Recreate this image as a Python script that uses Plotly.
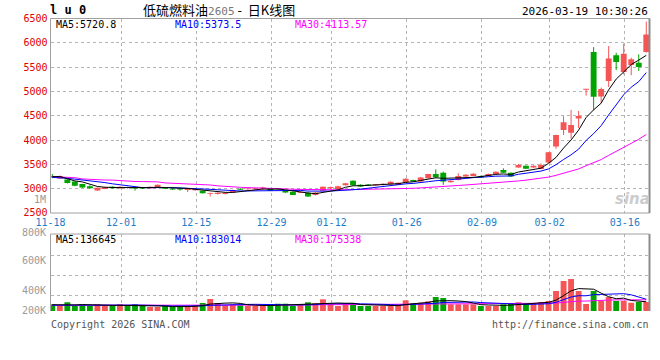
import plotly.graph_objects as go

# ---------------- data ----------------
dates = ["11-18","11-19","11-20","11-21","11-24","11-25","11-26","11-27","11-28",
         "12-01","12-02","12-03","12-04","12-05","12-08","12-09","12-10","12-11","12-12",
         "12-15","12-16","12-17","12-18","12-19","12-22","12-23","12-24","12-25","12-26",
         "12-29","12-30","12-31",
         "01-05","01-06","01-07","01-08","01-09","01-12","01-13","01-14","01-15","01-16",
         "01-19","01-20","01-21","01-22","01-23","01-26","01-27","01-28","01-29","01-30",
         "02-02","02-03","02-04","02-05","02-06","02-09","02-10","02-11","02-12","02-13",
         "02-24","02-25","02-26","02-27",
         "03-02","03-03","03-04","03-05","03-06","03-09","03-10","03-11","03-12","03-13",
         "03-16","03-17","03-18","03-19"]

opens = [3245, 3210, 3190, 3145, 3095, 3050, 2960, 2995, 3040, 3010,
         3030, 3012, 3010, 3010, 3022, 3020, 2995, 2992, 2975, 2970,
         2958, 2890, 2888, 2888, 2928, 2985, 2988, 2990, 3005, 3005,
         2998, 2958, 2935, 2918, 2915, 2872, 2955, 3015, 2990, 3072,
         3162, 3080, 3088, 3065, 3085, 3092, 3080, 3125, 3178, 3146,
         3216, 3300, 3328, 3132, 3180, 3248, 3262, 3260, 3262, 3304,
         3382, 3328, 3434, 3472, 3434, 3406, 3536, 3866, 4208, 4152,
         4445, 5035, 5810, 4895, 5216, 5742, 5400, 5544, 5592, 5810]

closes = [3235, 3262, 3115, 3058, 3025, 3010, 3020, 3030, 3010, 3040,
          3015, 3005, 3005, 3040, 3080, 2998, 2985, 2985, 2980, 2985,
          2908, 2900, 2915, 2915, 2972, 2978, 3000, 3005, 3010, 2958,
          2990, 2920, 2872, 2935, 2838, 2922, 3040, 3022, 3052, 3110,
          3072, 3045, 3065, 3090, 3092, 3142, 3122, 3203, 3148, 3232,
          3300, 3236, 3146, 3162, 3260, 3286, 3308, 3228, 3300, 3348,
          3330, 3250, 3486, 3412, 3472, 3486, 3748, 4102, 4365, 4310,
          4495, 5045, 4893, 5050, 5680, 5606, 5776, 5660, 5502, 6170]

highs = [3300, 3270, 3200, 3150, 3100, 3070, 3025, 3040, 3045, 3045,
         3040, 3040, 3020, 3045, 3085, 3025, 3005, 3015, 2990, 2990,
         2965, 2918, 2925, 2925, 2978, 3010, 3010, 3012, 3040, 3010,
         3012, 2965, 2940, 2945, 2925, 2930, 3045, 3041, 3060, 3115,
         3170, 3090, 3095, 3095, 3112, 3150, 3130, 3215, 3185, 3240,
         3305, 3398, 3350, 3170, 3316, 3300, 3318, 3270, 3310, 3355,
         3418, 3335, 3508, 3478, 3478, 3522, 3755, 4110, 4490, 4620,
         4600, 5050, 5913, 5078, 5934, 5797, 5982, 5694, 5763, 6434]

lows = [3215, 3200, 3105, 3050, 3015, 3000, 2955, 2990, 3005, 3000,
        3005, 2960, 2995, 3005, 3015, 2990, 2975, 2960, 2930, 2960,
        2900, 2840, 2880, 2880, 2920, 2970, 2980, 2985, 2975, 2950,
        2975, 2912, 2865, 2910, 2830, 2860, 2950, 2990, 2985, 3065,
        3065, 3040, 3060, 3060, 3065, 3088, 3075, 3120, 3140, 3140,
        3210, 3215, 3078, 3125, 3170, 3235, 3255, 3220, 3255, 3300,
        3325, 3245, 3430, 3405, 3428, 3400, 3530, 3820, 4105, 4030,
        4250, 4915, 4618, 4756, 5092, 5440, 5352, 5332, 5420, 5797]

volumes = [103000, 77000, 134000, 77000, 103000, 77000, 103000, 77000, 77000, 103000,
           77000, 103000, 77000, 62000, 62000, 77000, 62000, 62000, 77000, 88000,
           123000, 185000, 123000, 88000, 103000, 88000, 77000, 77000, 77000, 103000,
           112000, 112000, 77000, 103000, 134000, 119000, 180000, 103000, 77000, 119000,
           119000, 77000, 77000, 77000, 77000, 77000, 103000, 165000, 119000, 128000,
           149000, 216000, 200000, 103000, 103000, 103000, 103000, 77000, 77000, 77000,
           103000, 119000, 134000, 119000, 119000, 139000, 154000, 308000, 462000, 493000,
           308000, 108000, 308000, 159000, 216000, 154000, 154000, 128000, 139000, 139000]

# moving-average values at the left edge (their windows start before the first candle),
# read from the lines in the picture
ma5_head = [3245, 3250, 3205, 3160]
ma10_head = [3234, 3228, 3212, 3196, 3180, 3165, 3148, 3125, 3100]
ma30_head = [3247, 3242, 3236, 3226, 3200, 3188, 3182, 3178, 3176, 3165,
             3152, 3148, 3146, 3144, 3140, 3118, 3113, 3110, 3105, 3092,
             3088, 3076, 3058, 3045, 3035, 3028, 3022, 3018, 3016]
vma5_head = [96000, 92000, 98000, 94000]
vma10_head = [90000, 89000, 90000, 89000, 90000, 89000, 90000, 90000, 89000]
vma30_head = [88000, 88000, 88000, 88000, 88000, 88000, 88000, 88000, 88000, 88000,
              88000, 88000, 88000, 88000, 88000, 86000, 80000, 80000, 80000, 80000,
              80000, 84000, 86000, 86000, 86000, 86000, 86000, 87000, 88000]

price_ticks = [2500, 3000, 3500, 4000, 4500, 5000, 5500, 6000, 6500]
date_ticks = ["11-18", "12-01", "12-15", "12-29", "01-12", "01-26", "02-09", "03-02", "03-16"]
vol_tick_labels = ["1M", "800K", "600K", "400K", "200K"]

price_ma_labels = ["MA5:5720.8", "MA10:5373.5", "MA30:4113.57"]
vol_ma_labels = ["MA5:136645", "MA10:183014", "MA30:175338"]
symbol = "l u 0"
title_name = "低硫燃料油"
title_code = "2605"
title_kind = "日K线图"
timestamp = "2026-03-19 10:30:26"

# ---------------- helpers ----------------
W, H = 660, 360
def fx(p):
    return p / W
def fy(p):
    return 1 - p / H

def moving(vals, n, head):
    return list(head) + [sum(vals[i - n + 1:i + 1]) / n for i in range(n - 1, len(vals))]

idx = list(range(len(dates)))
RED = "#f55555"
GREEN = "#00a300"
GRID = "#b4b4b4"
BORDER = "#a0a0a0"
MONO = "DejaVu Sans Mono"

up = [c >= o for o, c in zip(opens, closes)]
colors = [RED if u else GREEN for u in up]
MIN_BODY = 18
bases = [min(o, c) for o, c in zip(opens, closes)]
bodies = [max(abs(c - o), MIN_BODY) for o, c in zip(opens, closes)]

ma5 = moving(closes, 5, ma5_head)
ma10 = moving(closes, 10, ma10_head)
ma30 = moving(closes, 30, ma30_head)
vma5 = moving(volumes, 5, vma5_head)
vma10 = moving(volumes, 10, vma10_head)
vma30 = moving(volumes, 30, vma30_head)

XMIN, XMAX = -0.24, len(dates) - 1 + 0.43
tickvals = [dates.index(d) + 0.15 for d in date_ticks]
tickvals[0] = XMIN

fig = go.Figure()

# wicks
for col, flag in ((RED, True), (GREEN, False)):
    wx, wy = [], []
    for i in idx:
        if up[i] == flag:
            wx += [i, i, None]
            wy += [lows[i], highs[i], None]
    fig.add_trace(go.Scatter(x=wx, y=wy, mode="lines", line=dict(color=col, width=1),
                             xaxis="x", yaxis="y", hoverinfo="skip", showlegend=False))
# bodies
fig.add_trace(go.Bar(x=idx, y=bodies, base=bases, width=0.78,
                     marker=dict(color=colors, line=dict(width=0)),
                     xaxis="x", yaxis="y", hoverinfo="skip", showlegend=False))
# price MAs
for vals, col in ((ma30, "#ff00ff"), (ma10, "#0000ff"), (ma5, "#000000")):
    fig.add_trace(go.Scatter(x=idx, y=vals, mode="lines", line=dict(color=col, width=1),
                             xaxis="x", yaxis="y", hoverinfo="skip", showlegend=False))
# volume
fig.add_trace(go.Bar(x=idx, y=volumes, width=0.78,
                     marker=dict(color=colors, line=dict(width=0)),
                     xaxis="x2", yaxis="y2", hoverinfo="skip", showlegend=False))
for vals, col in ((vma30, "#ff00ff"), (vma10, "#0000ff"), (vma5, "#000000")):
    fig.add_trace(go.Scatter(x=idx, y=vals, mode="lines", line=dict(color=col, width=1),
                             xaxis="x2", yaxis="y2", hoverinfo="skip", showlegend=False))

XDOM = [fx(50.5), fx(649.5)]
MAIN_DOM = [fy(213), fy(18.5)]
VOL_DOM = [fy(311), fy(234)]
VOL_MAX = 1186000

fig.update_layout(
    template="none",
    width=W, height=H, margin=dict(l=0, r=0, t=0, b=0, pad=0, autoexpand=False),
    paper_bgcolor="white", plot_bgcolor="white", barmode="overlay", showlegend=False,
    hovermode=False,
    xaxis=dict(domain=XDOM, anchor="y", range=[XMIN, XMAX], tickmode="array",
               tickvals=tickvals, ticktext=date_ticks, ticks="", automargin=False,
               ticklabelstandoff=2,
               tickfont=dict(family=MONO, size=10, color="#1f7cc8"),
               showgrid=True, gridcolor=GRID, griddash="dot", gridwidth=1,
               zeroline=False, showline=False),
    yaxis=dict(domain=MAIN_DOM, anchor="x", range=[2499.5, 6500.5], tickmode="array",
               tickvals=price_ticks, ticktext=[str(v) for v in price_ticks], ticks="",
               automargin=False,
               tickfont=dict(family=MONO, size=10, color="#e00000"), ticklabelstandoff=2,
               showgrid=True, gridcolor=GRID, griddash="dot", gridwidth=1,
               zeroline=False, showline=False),
    xaxis2=dict(domain=XDOM, anchor="y2", range=[XMIN, XMAX], tickmode="array",
                tickvals=tickvals, showticklabels=False, ticks="", automargin=False,
                showgrid=True, gridcolor=GRID, griddash="dot", gridwidth=1,
                zeroline=False, showline=False),
    yaxis2=dict(domain=VOL_DOM, anchor="x2", range=[0, VOL_MAX], tickmode="array",
                tickvals=[246000, 554000, 862000], showticklabels=False, ticks="",
                automargin=False,
                showgrid=True, gridcolor=GRID, griddash="dot", gridwidth=1,
                zeroline=False, showline=False),
)

shapes = [
    dict(type="rect", xref="x domain", yref="y domain", x0=0, x1=1, y0=0, y1=1,
         line=dict(color=BORDER, width=1)),
    dict(type="line", xref="x domain", yref="y domain", x0=1, x1=1, y0=0, y1=1,
         line=dict(color="#8c8c8c", width=2)),
    dict(type="line", xref="x2 domain", yref="y2 domain", x0=0, x1=1, y0=1, y1=1,
         line=dict(color=BORDER, width=1)),
    dict(type="line", xref="x2 domain", yref="y2 domain", x0=0, x1=0, y0=0, y1=1,
         line=dict(color=BORDER, width=1)),
    dict(type="line", xref="x2 domain", yref="y2 domain", x0=1, x1=1, y0=0, y1=1,
         line=dict(color="#8c8c8c", width=2)),
]
fig.update_layout(shapes=shapes)

ann = []
def text(x, y, s, color="#000", size=10, family=MONO, xanchor="left"):
    ann.append(dict(x=fx(x), y=fy(y), xref="paper", yref="paper", text=s, showarrow=False,
                    xanchor=xanchor, yanchor="middle", borderpad=0,
                    font=dict(family=family, size=size, color=color)))

text(49, 10, "<b>" + symbol + "</b>", size=12)
text(218.5, 9.5, title_name + "<span style='font-family:DejaVu Sans Mono;font-size:11px;color:#777'>"
     + title_code + "</span> -  " + title_kind, size=13, family="Noto Sans CJK SC", xanchor="center")
text(649, 12, timestamp, size=11, xanchor="right")

ma_cols = ["#000000", "#0000ff", "#ff00ff"]
ma_x = [55, 174, 294]
for s, c, x in zip(price_ma_labels, ma_cols, ma_x):
    text(x, 24.5, s, color=c)
for s, c, x in zip(vol_ma_labels, ma_cols, ma_x):
    text(x, 239.5, s, color=c)

vol_label_y = [199, 232, 260, 290.7, 310.7]
for s, y in zip(vol_tick_labels, vol_label_y):
    text(46.5, y, s, color="#9a9a9a", xanchor="right")

text(50, 324, "Copyright 2026 SINA.COM", color="#555555")
text(649.5, 324, "http://finance.sina.com.cn", color="#555555", xanchor="right")
text(632, 199, "<b><i>sina</i></b>", color="#cccccc", size=15, family="DejaVu Sans", xanchor="center")

fig.update_layout(annotations=ann)
fig.write_html("out.html", config={"displayModeBar": False, "staticPlot": True},
               post_script="document.body.style.margin='0px';")
